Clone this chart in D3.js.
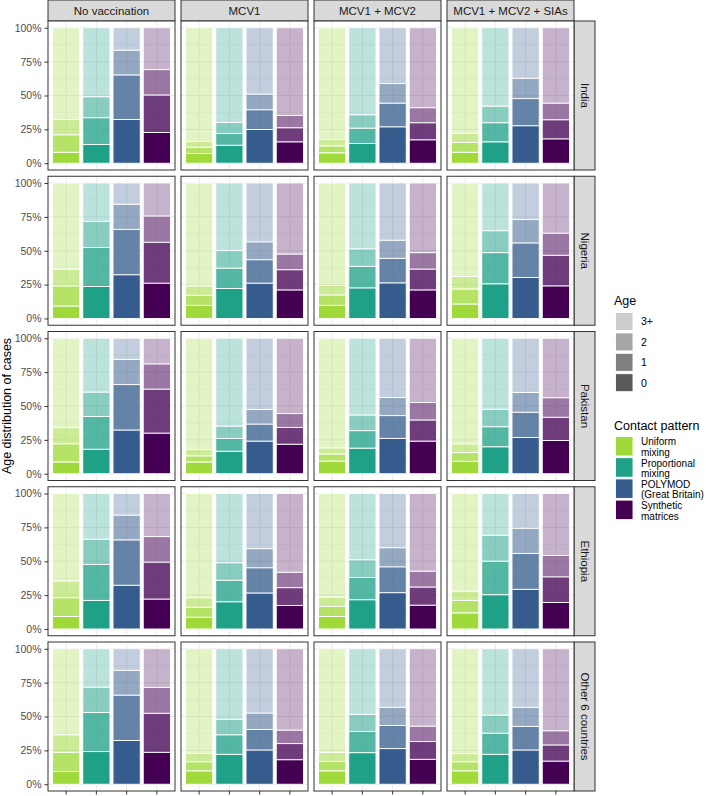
<!DOCTYPE html>
<html>
<head>
<meta charset="utf-8">
<script src="https://cdn.jsdelivr.net/npm/d3@7"></script>
<style>
  body { margin: 0; background: #fff; }
  svg { display: block; font-family: "Liberation Sans", Arial, sans-serif; }
</style>
</head>
<body>
<svg id="chart" width="706" height="796"></svg>
<script>
// facets, categories, groups
const countries = ["India", "Nigeria", "Pakistan", "Ethiopia", "Other 6 countries"];
const strategies = ["No vaccination", "MCV1", "MCV1 + MCV2", "MCV1 + MCV2 + SIAs"];
const patterns = ["Uniform mixing", "Proportional mixing", "POLYMOD (Great Britain)", "Synthetic matrices"];
const patternLabels = [["Uniform", "mixing"], ["Proportional", "mixing"], ["POLYMOD", "(Great Britain)"], ["Synthetic", "matrices"]];
const ages = ["0", "1", "2", "3+"];
const yTicks = [0, 0.25, 0.5, 0.75, 1];

// % of cases by age [0, 1, 2, 3+]; rows = strategy, inner = contact pattern
const india = [
  [[8.1, 12.9, 11.3, 67.7], [13.8, 19.8, 15.5, 50.9], [32.3, 32.9, 18.3, 16.5], [22.7, 27.7, 18.7, 30.9]],
  [[7.2, 4.7, 4.1, 84.0], [13.3, 8.7, 8.1, 69.9], [24.9, 14.6, 11.6, 48.9], [15.8, 10.4, 9.1, 64.7]],
  [[7.7, 5.1, 4.7, 82.5], [14.6, 11.3, 9.9, 64.2], [26.9, 17.5, 14.4, 41.2], [17.3, 12.6, 11.1, 59.0]],
  [[8.1, 7.2, 6.9, 77.8], [15.8, 14.1, 12.3, 57.8], [27.7, 20.0, 15.0, 37.3], [18.0, 14.1, 12.3, 55.6]]
];
const nigeria = [
  [[9.2, 14.9, 12.4, 63.5], [23.6, 28.8, 19.3, 28.3], [32.3, 33.5, 18.6, 15.6], [26.1, 30.2, 19.4, 24.3]],
  [[9.7, 7.4, 7.0, 75.9], [22.1, 15.1, 12.9, 49.9], [26.1, 17.3, 13.2, 43.4], [21.1, 14.9, 11.6, 52.4]],
  [[9.7, 7.7, 6.9, 75.7], [22.6, 15.9, 12.9, 48.6], [26.3, 18.1, 13.4, 42.2], [21.1, 15.4, 12.1, 51.4]],
  [[10.7, 11.1, 9.2, 69.0], [25.6, 23.0, 16.2, 35.2], [30.3, 25.5, 17.2, 27.0], [24.1, 22.6, 16.3, 37.0]]
];
const pakistan = [
  [[8.7, 13.4, 11.9, 66.0], [18.1, 24.1, 18.1, 39.7], [32.3, 33.5, 18.6, 15.6], [30.0, 32.5, 18.6, 18.9]],
  [[8.7, 4.5, 4.7, 82.1], [16.6, 9.5, 9.1, 64.8], [24.1, 12.6, 10.7, 52.6], [21.8, 12.4, 10.2, 55.6]],
  [[9.4, 5.2, 4.5, 80.9], [18.9, 12.9, 11.6, 56.6], [26.1, 16.8, 13.4, 43.7], [24.1, 15.6, 12.9, 47.4]],
  [[9.2, 6.4, 6.5, 77.9], [19.9, 14.8, 12.9, 52.4], [26.8, 18.6, 14.6, 40.0], [24.6, 17.1, 14.4, 43.9]]
];
const ethiopia = [
  [[9.2, 13.9, 12.4, 64.5], [21.1, 26.5, 18.7, 33.7], [32.3, 33.5, 18.3, 15.9], [22.1, 27.3, 18.8, 31.8]],
  [[8.7, 7.4, 7.0, 76.9], [20.1, 15.9, 12.9, 51.1], [26.6, 18.6, 14.1, 40.7], [17.4, 13.1, 11.4, 58.1]],
  [[9.2, 7.4, 7.0, 76.4], [21.6, 16.4, 13.1, 48.9], [26.8, 19.1, 14.1, 40.0], [17.6, 13.4, 11.7, 57.3]],
  [[11.9, 9.2, 6.9, 72.0], [25.3, 24.8, 19.1, 30.8], [29.3, 26.5, 18.6, 25.6], [19.6, 18.9, 15.8, 45.7]]
];
const other6 = [
  [[9.4, 14.2, 12.9, 63.5], [24.1, 28.8, 18.8, 28.3], [32.3, 33.5, 18.3, 15.9], [23.6, 28.8, 19.1, 28.5]],
  [[9.9, 6.7, 6.2, 77.2], [22.1, 14.4, 11.4, 52.1], [25.3, 15.1, 12.2, 47.4], [18.1, 11.9, 10.0, 60.0]],
  [[9.9, 7.0, 6.7, 76.4], [23.3, 15.7, 12.6, 48.4], [26.3, 17.1, 13.4, 43.2], [18.4, 13.1, 11.4, 57.1]],
  [[9.9, 6.7, 6.0, 77.4], [22.1, 15.6, 13.4, 48.9], [25.3, 17.4, 14.1, 43.2], [17.1, 11.9, 10.5, 60.5]]
];
const byCountry = [india, nigeria, pakistan, ethiopia, other6];

const patternColors = ["#9fda3a", "#1fa187", "#365c8d", "#440154"];
const ageAlpha = [1, 0.767, 0.533, 0.3];

// layout
const panelX0 = 48, panelY0 = 21, panelW = 127, panelH = 149;
const colStep = 133, rowStep = 155.25;
const stripH = 21, stripW = 21;

const svg = d3.select("#chart");

const x = d3.scaleBand().domain(patterns).range([0, panelW]).paddingInner(0.1).paddingOuter(0.15);
const y = d3.scaleLinear().domain([-0.05, 1.05]).range([panelH, 0]);
const color = d3.scaleOrdinal(patterns, patternColors);
const alpha = d3.scaleOrdinal(ages, ageAlpha);

const stack = d3.stack().keys(ages).offset(d3.stackOffsetExpand);

// top strips
strategies.forEach((s, j) => {
    const g = svg.append("g").attr("transform", `translate(${panelX0 + j * colStep},0)`);
    g.append("rect").attr("x", 0).attr("y", 0).attr("width", panelW).attr("height", stripH)
        .attr("fill", "#d9d9d9").attr("stroke", "#333").attr("stroke-width", 1);
    g.append("text").attr("x", panelW / 2).attr("y", stripH / 2 + 4)
        .attr("text-anchor", "middle").attr("font-size", 11.5).attr("fill", "#1a1a1a").text(s);
});

countries.forEach((country, i) => {
    const py = panelY0 + i * rowStep;

    // right strip
    const sg = svg.append("g").attr("transform", `translate(${panelX0 + 3 * colStep + panelW},${py})`);
    sg.append("rect").attr("width", stripW).attr("height", panelH)
        .attr("fill", "#d9d9d9").attr("stroke", "#333").attr("stroke-width", 1);
    sg.append("text")
        .attr("transform", `translate(${stripW / 2 - 4},${panelH / 2}) rotate(90)`)
        .attr("text-anchor", "middle").attr("font-size", 11.5).attr("fill", "#1a1a1a").text(country);

    // y axis
    const ya = svg.append("g").attr("transform", `translate(${panelX0},${py})`)
        .call(d3.axisLeft(y).tickValues(yTicks).tickSize(3.5).tickPadding(3).tickFormat(d3.format(".0%")));
    ya.select(".domain").remove();
    ya.selectAll(".tick line").attr("stroke", "#333");
    ya.selectAll(".tick text").attr("fill", "#4d4d4d").attr("font-size", 10.5)
        .attr("font-family", "Liberation Sans, Arial, sans-serif");

    strategies.forEach((s, j) => {
        const px = panelX0 + j * colStep;
        const g = svg.append("g").attr("transform", `translate(${px},${py})`);

        g.append("rect").attr("width", panelW).attr("height", panelH).attr("fill", "#fff");

        // grid
        const minor = [0.125, 0.375, 0.625, 0.875];
        g.selectAll(".gmin").data(minor).enter().append("line")
            .attr("x1", 0).attr("x2", panelW).attr("y1", d => y(d)).attr("y2", d => y(d))
            .attr("stroke", "#ebebeb").attr("stroke-width", 0.5);
        g.selectAll(".gmaj").data(yTicks).enter().append("line")
            .attr("x1", 0).attr("x2", panelW).attr("y1", d => y(d)).attr("y2", d => y(d))
            .attr("stroke", "#ebebeb").attr("stroke-width", 1);
        g.selectAll(".gx").data(patterns).enter().append("line")
            .attr("x1", d => x(d) + x.bandwidth() / 2).attr("x2", d => x(d) + x.bandwidth() / 2)
            .attr("y1", 0).attr("y2", panelH)
            .attr("stroke", "#ebebeb").attr("stroke-width", 1);

        const rows = patterns.map((p, k) => {
            const vals = byCountry[i][j][k];
            const r = { pattern: p };
            ages.forEach((a, m) => r[a] = vals[m]);
            return r;
        });
        const series = stack(rows);

        g.selectAll(".age").data(series).enter().append("g")
            .attr("fill-opacity", d => alpha(d.key))
            .selectAll("rect").data(d => d).enter().append("rect")
            .attr("x", d => x(d.data.pattern))
            .attr("width", x.bandwidth())
            .attr("y", d => y(d[1]))
            .attr("height", d => y(d[0]) - y(d[1]))
            .attr("fill", d => color(d.data.pattern))
            .attr("stroke", "#fff").attr("stroke-width", 0.9);

        g.append("rect").attr("width", panelW).attr("height", panelH)
            .attr("fill", "none").attr("stroke", "#333").attr("stroke-width", 1);

        // bottom row x ticks
        if (i === countries.length - 1) {
            const xa = g.append("g").attr("transform", `translate(0,${panelH})`)
                .call(d3.axisBottom(x).tickSize(3.5).tickFormat(""));
            xa.select(".domain").remove();
            xa.selectAll(".tick line").attr("stroke", "#333");
        }
    });
});

// y title
svg.append("text")
    .attr("transform", `translate(11,${panelY0 + (4 * rowStep + panelH) / 2}) rotate(-90)`)
    .attr("text-anchor", "middle").attr("font-size", 12.5).attr("fill", "#000")
    .text("Age distribution of cases");

// legends
const legX = 614;
const ageLeg = svg.append("g");
ageLeg.append("text").attr("x", legX).attr("y", 304.5).attr("font-size", 12.5).attr("fill", "#000").text("Age");
const ageOrder = ages.slice().reverse();
ageOrder.forEach((a, k) => {
    const ky = 312.5 + k * 20.4;
    ageLeg.append("rect").attr("x", legX + 1.5).attr("y", ky).attr("width", 17.5).attr("height", 18)
        .attr("fill", "#595959").attr("fill-opacity", alpha(a)).attr("stroke", "#fff").attr("stroke-width", 0.9);
    ageLeg.append("text").attr("x", legX + 27).attr("y", ky + 9 + 3.8)
        .attr("font-size", 10.5).attr("fill", "#000").text(a);
});

const patLeg = svg.append("g");
patLeg.append("text").attr("x", legX).attr("y", 429.5).attr("font-size", 12.5).attr("fill", "#000").text("Contact pattern");
patterns.forEach((p, k) => {
    const ky = 436.5 + k * 21.2;
    patLeg.append("rect").attr("x", legX + 1.5).attr("y", ky).attr("width", 17.5).attr("height", 19.5)
        .attr("fill", color(p)).attr("stroke", "#fff").attr("stroke-width", 0.9);
    const t = patLeg.append("text").attr("font-size", 10).attr("fill", "#000");
    patternLabels[k].forEach((line, m) => {
        t.append("tspan").attr("x", legX + 27).attr("y", ky + 5.3 + 3.6 + m * 10.5).text(line);
    });
});
</script>
</body>
</html>
